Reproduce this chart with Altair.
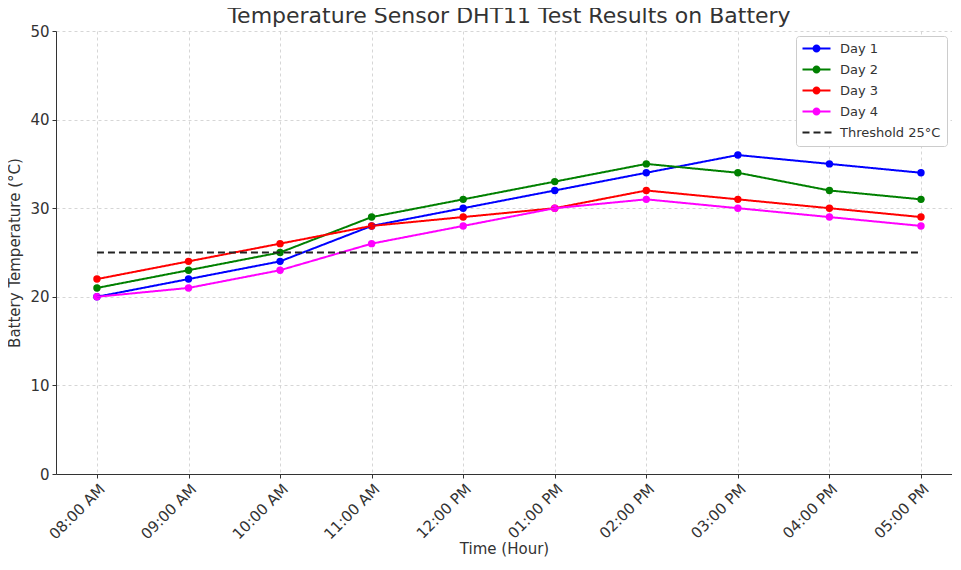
import math
import altair as alt
import pandas as pd

hours = ["08:00 AM", "09:00 AM", "10:00 AM", "11:00 AM", "12:00 PM",
         "01:00 PM", "02:00 PM", "03:00 PM", "04:00 PM", "05:00 PM"]
day1 = [20, 22, 24, 28, 30, 32, 34, 36, 35, 34]
day2 = [21, 23, 25, 29, 31, 33, 35, 34, 32, 31]
day3 = [22, 24, 26, 28, 29, 30, 32, 31, 30, 29]
day4 = [20, 21, 23, 26, 28, 30, 31, 30, 29, 28]
threshold = 25

series_names = ["Day 1", "Day 2", "Day 3", "Day 4", "Threshold 25°C"]
series_colors = ["#0000ff", "#008000", "#ff0000", "#ff00ff", "#222222"]
series_dash = [[1, 0], [1, 0], [1, 0], [1, 0], [7, 4]]

# legend glyphs: line with a marker for days, dashed line for threshold
circle_pts = " ".join(
    ("M" if i == 0 else "L") + "%.3f,%.3f" % (math.cos(2 * math.pi * i / 16), math.sin(2 * math.pi * i / 16))
    for i in range(16))
LINE_MARK = "M-3.5,-0.25 L3.5,-0.25 L3.5,0.25 L-3.5,0.25 Z " + circle_pts + " Z"
DASHED = ("M-3.5,-0.25 L-1.75,-0.25 L-1.75,0.25 L-3.5,0.25 Z "
          "M-0.75,-0.25 L1,-0.25 L1,0.25 L-0.75,0.25 Z "
          "M2,-0.25 L3.75,-0.25 L3.75,0.25 L2,0.25 Z")

rows = []
for name, vals in zip(series_names[:4], [day1, day2, day3, day4]):
    for h, v in zip(hours, vals):
        rows.append({"hour": h, "temp": v, "series": name, "point": True})
for h in hours:
    rows.append({"hour": h, "temp": threshold, "series": series_names[4], "point": False})
df = pd.DataFrame(rows)

FONT = "DejaVu Sans"
TXT = "#333333"

x = alt.X("hour:O", sort=hours, title="Time (Hour)",
          scale=alt.Scale(type="point", padding=0.393, align=0.569),
          axis=alt.Axis(labelAngle=-45, labelFontSize=15, titleFontSize=15,
                        titleFontWeight="normal", titlePadding=0, labelPadding=3,
                        grid=True, gridDash=[3, 3], gridColor="#d6d6d6", tickSize=4,
                        domainColor="#333333", tickColor="#333333",
                        labelColor=TXT, titleColor=TXT))
y = alt.Y("temp:Q", title="Battery Temperature (°C)",
          scale=alt.Scale(domain=[0, 50]),
          axis=alt.Axis(values=[0, 10, 20, 30, 40, 50], labelFontSize=15,
                        titleFontSize=15, titleFontWeight="normal", grid=True,
                        gridDash=[3, 3], gridColor="#d6d6d6", tickSize=4,
                        labelPadding=3, domainColor="#333333",
                        tickColor="#333333", labelColor=TXT,
                        titleColor=TXT, titlePadding=7))

color_scale = alt.Scale(domain=series_names, range=series_colors)

shape_expr = "datum.value === '%s' ? '%s' : '%s'" % (series_names[4], DASHED, LINE_MARK)
legend = alt.Legend(
    title=None, orient="none", legendX=740, legendY=5,
    symbolType=alt.ExprRef(expr=shape_expr),
    symbolSize=64, symbolStrokeWidth=0, symbolOpacity=1,
    symbolOffset=8, labelOffset=17, labelFontSize=13,
    labelColor=TXT, padding=6, rowPadding=7,
    strokeColor="#cccccc", fillColor="white", cornerRadius=3)

points = alt.Chart(df).transform_filter("datum.point").mark_circle(size=55, opacity=1).encode(
    x=x, y=y, color=alt.Color("series:N", scale=color_scale, legend=legend))
lines = alt.Chart(df).mark_line(strokeWidth=2).encode(
    x=x, y=y,
    color=alt.Color("series:N", scale=color_scale, legend=None),
    strokeDash=alt.StrokeDash("series:N", scale=alt.Scale(domain=series_names, range=series_dash),
                              legend=None))

chart = alt.layer(points, lines).properties(
    width=896, height=443,
    title=alt.Title("Temperature Sensor DHT11 Test Results on Battery", fontSize=22,
                    font=FONT, fontWeight="normal", color=TXT, offset=2, dx=5, dy=6),
    autosize=alt.AutoSizeParams(type="none"),
    padding={"left": 48, "top": 23, "right": 0, "bottom": 84},
).configure(font=FONT).configure_view(stroke=None)

chart.save("out.html", embed_options={"renderer": "svg", "actions": False})
